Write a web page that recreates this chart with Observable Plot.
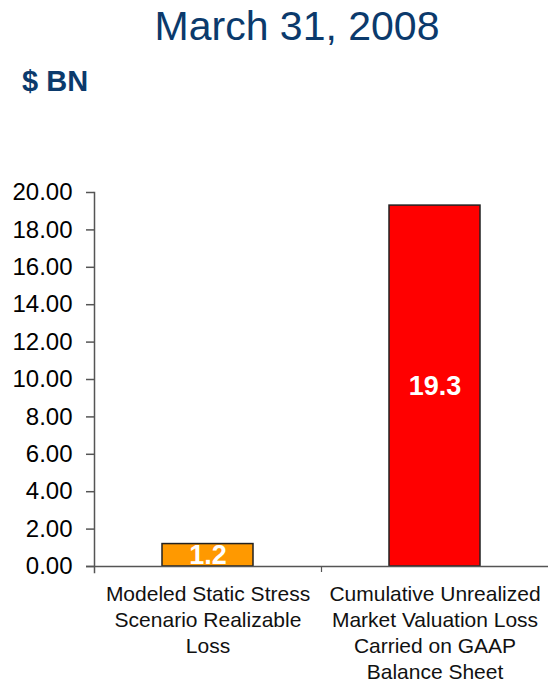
<!DOCTYPE html>
<html>
<head>
<meta charset="utf-8">
<script src="https://cdn.jsdelivr.net/npm/d3@7"></script>
<script src="https://cdn.jsdelivr.net/npm/@observablehq/plot@0.6"></script>
<style>
  html, body { margin: 0; padding: 0; background: #fff; }
  #wrap { position: relative; width: 548px; height: 684px; font-family: "Liberation Sans", Arial, sans-serif; }
  #title { position: absolute; left: 0; width: 594px; top: 6px; text-align: center; font-size: 41px; line-height: 41px; color: #0b3a6c; }
  #unit { position: absolute; left: 22px; top: 67px; font-size: 29px; line-height: 29px; font-weight: bold; color: #0b3a6c; }
  #chart { position: absolute; left: 0; top: 0; }
</style>
</head>
<body>
<div id="wrap">
  <div id="chart"></div>
  <div id="title">March 31, 2008</div>
  <div id="unit">$ BN</div>
</div>
<script>
const categories = ["Modeled Static Stress Scenario Realizable Loss", "Cumulative Unrealized Market Valuation Loss Carried on GAAP Balance Sheet"];
const labelLines = [
  ["Modeled Static Stress", "Scenario Realizable", "Loss"],
  ["Cumulative Unrealized", "Market Valuation Loss", "Carried on GAAP", "Balance Sheet"]
];
const values = [1.2, 19.3];
const barColors = ["#FF9900", "#FF0000"];
const yTicks = [0, 2, 4, 6, 8, 10, 12, 14, 16, 18, 20];

const data = categories.map((c, i) => ({cat: c, value: values[i], color: barColors[i], label: labelLines[i].join("\n")}));

const W = 548, H = 684, mL = 94, mR = 0;
const step = (W - mL - mR) / categories.length;

const chart = Plot.plot({
  width: W,
  height: H,
  marginTop: 192,
  marginBottom: 118,
  marginLeft: mL,
  marginRight: mR,
  style: {fontFamily: "Liberation Sans, Arial, sans-serif", color: "#000", background: "#fff"},
  x: {domain: categories, paddingInner: 0.6, paddingOuter: 0.3, axis: null},
  y: {domain: [0, 20], axis: null},
  marks: [
    Plot.barY(data, {x: "cat", y: "value", fill: "color", stroke: "#222", strokeWidth: 1.5}),
    Plot.text(data, {x: "cat", y: d => d.value / 2, text: d => d3.format(".1f")(d.value), fill: "#fff", fontSize: 27, fontWeight: "bold"}),
    Plot.ruleY([0], {stroke: "#555", strokeWidth: 1.5, insetLeft: -8}),
    Plot.frame({anchor: "left", stroke: "#555", strokeWidth: 1.5, insetBottom: -6}),
    Plot.ruleX([categories[1]], {y1: 0, y2: 0, insetBottom: -6, dx: -step / 2, stroke: "#555", strokeWidth: 1.2}),
    Plot.axisY({ticks: yTicks, tickFormat: d3.format(".2f"), tickSize: 8, tickPadding: 14, fontSize: 24, stroke: "#555", strokeWidth: 1.5, fill: "#000", label: null}),
    Plot.text(data, {x: "cat", text: "label", frameAnchor: "bottom", lineAnchor: "top", dy: 16, fontSize: 21, lineHeight: 1.24, fill: "#111"})
  ]
});
document.getElementById("chart").appendChild(chart);
</script>
</body>
</html>
